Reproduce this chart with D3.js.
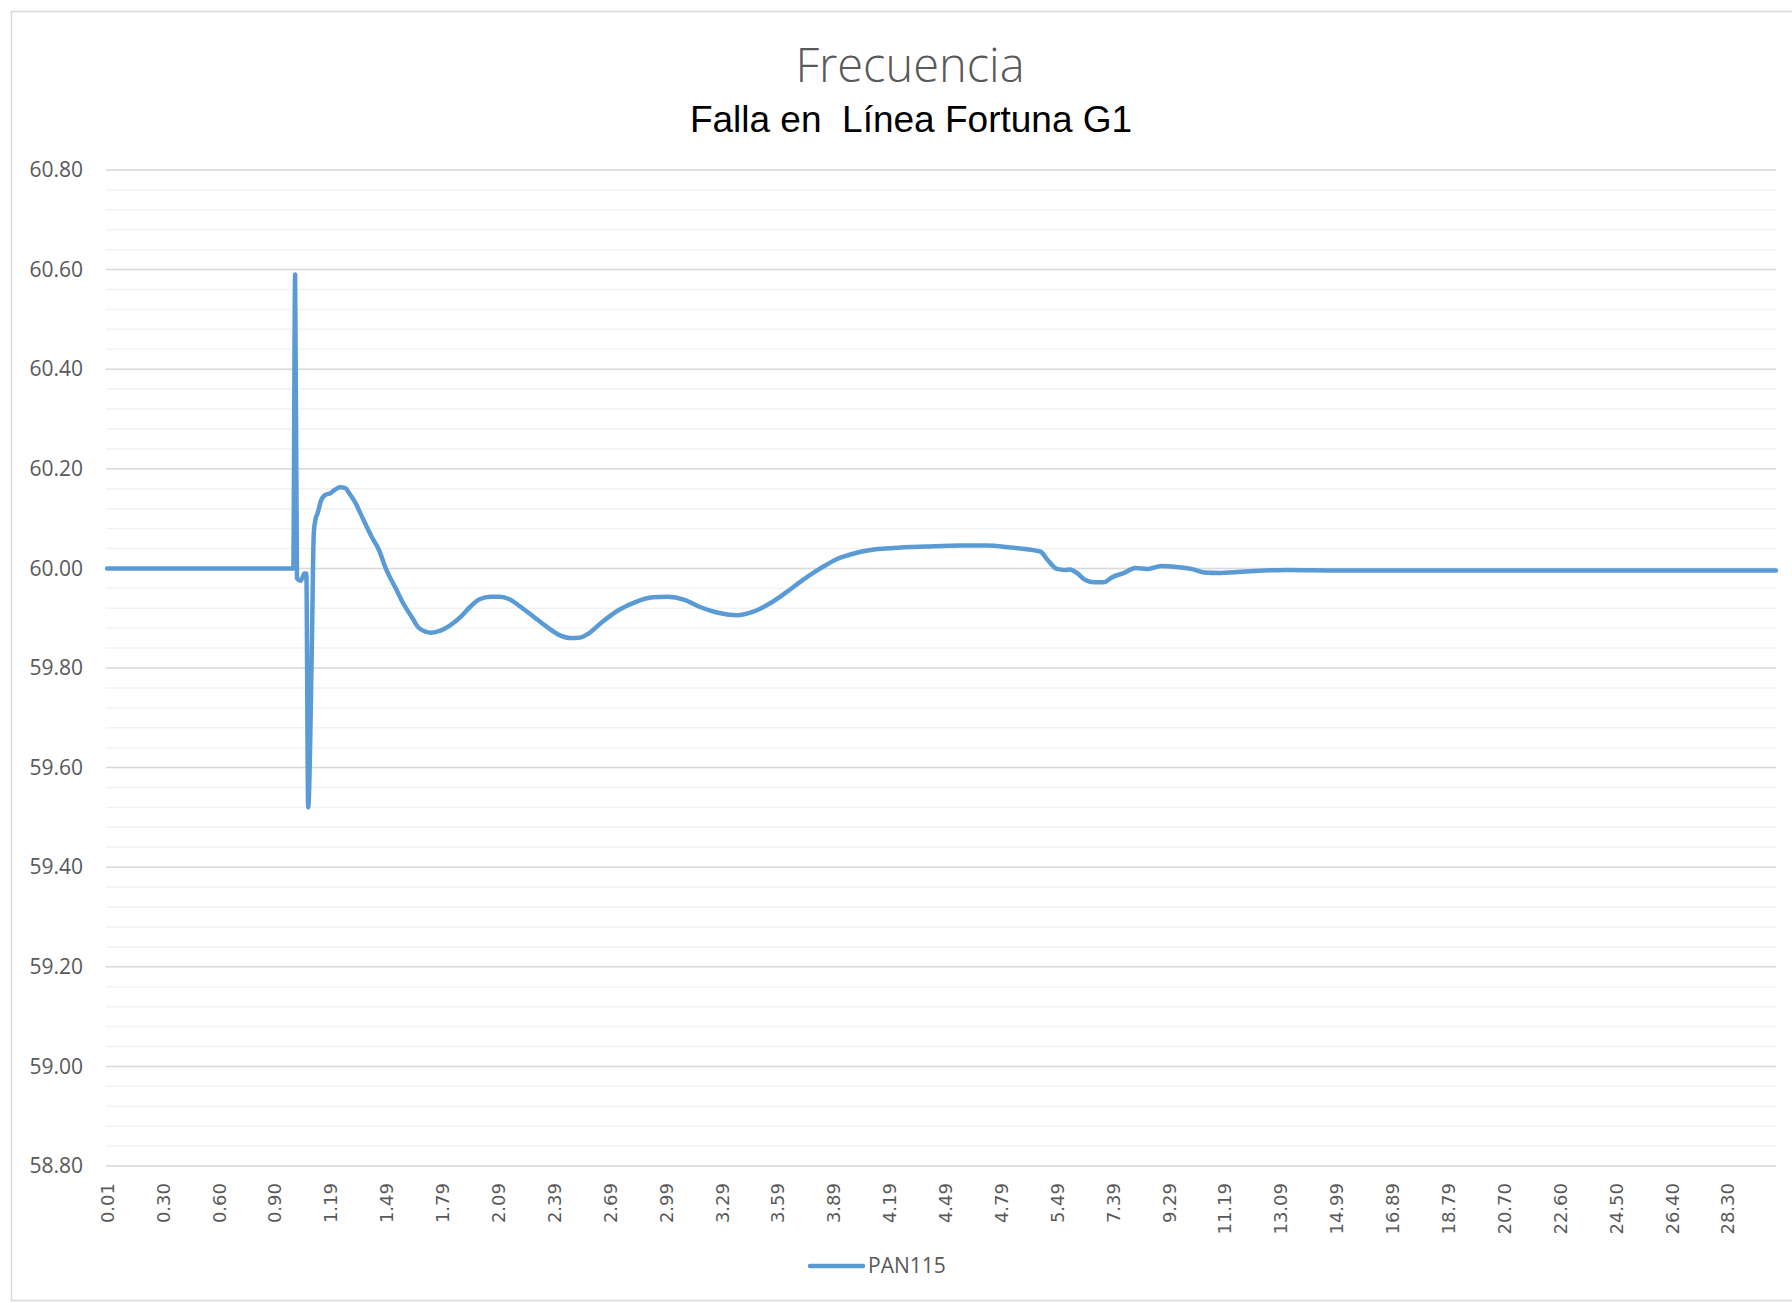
<!DOCTYPE html>
<html>
<head>
<meta charset="utf-8">
<title>Frecuencia</title>
<script src="https://cdn.jsdelivr.net/npm/d3@7"></script>
<style>
  body { margin: 0; background: #ffffff; }
</style>
</head>
<body>
<svg id="drawing_region"></svg>
<script>
// category index (0 = first time sample) and frequency
const catIndex = [0, 100, 101, 102, 104, 106, 107, 108, 110, 111, 112, 113, 115, 117, 120, 122, 125, 128, 130,
    133, 136, 139, 142, 146, 150, 155, 159, 164, 167, 171, 174, 179, 184, 190, 195, 200, 206, 211, 216,
    222, 229, 236, 243, 249, 254, 258, 266, 275, 284, 293, 301, 310, 318, 327, 338, 347, 356, 365, 374,
    383, 392, 401, 410, 422, 440, 458, 472, 485, 501, 505, 510, 514, 517, 521, 525, 530, 535, 540, 546,
    552, 559, 566, 574, 582, 589, 598, 616, 634, 660, 700, 750, 800, 850, 896];
const pan115 = [60.00, 60.00, 60.59, 59.98, 59.975, 59.99, 59.99, 59.52, 59.85, 60.07, 60.10, 60.11, 60.137, 60.147, 60.151, 60.157, 60.163, 60.161, 60.151,
    60.134, 60.111, 60.087, 60.064, 60.037, 59.997, 59.960, 59.930, 59.900, 59.882, 59.873, 59.871, 59.875, 59.885, 59.903, 59.923, 59.938, 59.943, 59.943, 59.938,
    59.923, 59.903, 59.883, 59.866, 59.860, 59.861, 59.868, 59.893, 59.917, 59.933, 59.942, 59.943, 59.937, 59.923, 59.912, 59.906, 59.913, 59.930, 59.953, 59.978,
    60.000, 60.019, 60.030, 60.037, 60.041, 60.044, 60.046, 60.046, 60.042, 60.034, 60.017, 59.999, 59.997, 59.998, 59.990, 59.977, 59.972, 59.972, 59.983, 59.991,
    60.001, 59.999, 60.005, 60.003, 59.999, 59.992, 59.991, 59.995, 59.997, 59.996, 59.996, 59.996, 59.996, 59.996, 59.996];
const lastIndex = 896;

// x tick labels, one every 30 categories
const xLabels = ["0.01", "0.30", "0.60", "0.90", "1.19", "1.49", "1.79", "2.09", "2.39", "2.69",
    "2.99", "3.29", "3.59", "3.89", "4.19", "4.49", "4.79", "5.49", "7.39", "9.29",
    "11.19", "13.09", "14.99", "16.89", "18.79", "20.70", "22.60", "24.50", "26.40", "28.30"];
const labelStep = 30;
const yTicks = [58.8, 59.0, 59.2, 59.4, 59.6, 59.8, 60.0, 60.2, 60.4, 60.6, 60.8];

const seriesName = "PAN115";
const title = "Frecuencia";
const subtitle = "Falla en  Línea Fortuna G1";

class LineChart {
    constructor( config ) {
        this.config = config;
        this.data = catIndex.map( (c, k) => ({ x: c, y: pan115[k] }) );
        this.init();
    }

    init() {
        let self = this;
        const m = self.config.margin;

        self.svg = d3.select( self.config.parent )
            .attr('width', self.config.width)
            .attr('height', self.config.height);

        self.svg.append('rect')
            .attr('x', 11.5).attr('y', 11.5)
            .attr('width', 1800).attr('height', 1289)
            .attr('fill', '#ffffff')
            .attr('stroke', '#d9d9d9')
            .attr('stroke-width', 1.5);

        self.xscale = d3.scaleLinear()
            .domain([0, lastIndex])
            .range([m.left, self.config.width - m.right]);

        self.yscale = d3.scaleLinear()
            .domain([58.8, 60.8])
            .range([self.config.height - m.bottom, m.top]);

        self.line = d3.line()
            .x( d => self.xscale(d.x) )
            .y( d => self.yscale(d.y) )
            .curve( d3.curveMonotoneX );
    }

    render() {
        let self = this;
        const x0 = self.xscale.range()[0], x1 = self.xscale.range()[1];

        // minor gridlines
        const minor = d3.range(0, 51).map( k => 58.8 + k * 0.04 );
        self.svg.append('g').selectAll('line')
            .data(minor)
            .join('line')
            .attr('x1', x0 - 1).attr('x2', x1)
            .attr('y1', d => self.yscale(d)).attr('y2', d => self.yscale(d))
            .attr('stroke', '#f2f2f2')
            .attr('stroke-width', 1.5);

        // major gridlines
        self.svg.append('g').selectAll('line')
            .data(yTicks)
            .join('line')
            .attr('x1', x0 - 1).attr('x2', x1)
            .attr('y1', d => self.yscale(d)).attr('y2', d => self.yscale(d))
            .attr('stroke', '#d9d9d9')
            .attr('stroke-width', 1.5);

        // y axis
        const yaxis = d3.axisLeft( self.yscale )
            .tickValues(yTicks)
            .tickFormat( d => d.toFixed(2) )
            .tickSize(0)
            .tickPadding(24);
        const yg = self.svg.append('g')
            .attr('transform', `translate(${x0}, 0)`)
            .call(yaxis);
        yg.select('.domain').remove();
        yg.selectAll('text')
            .attr('font-family', '"Open Sans", sans-serif')
            .attr('font-size', 21)
            .attr('fill', '#595959');

        // x axis (categories)
        const xaxis = d3.axisBottom( self.xscale )
            .tickValues( xLabels.map( (l, k) => k * labelStep ) )
            .tickFormat( (d, k) => xLabels[k] )
            .tickSize(0);
        const xg = self.svg.append('g')
            .attr('transform', `translate(0, ${self.yscale(58.8)})`)
            .call(xaxis);
        xg.select('.domain').remove();
        xg.selectAll('text')
            .attr('transform', 'rotate(-90)')
            .attr('x', -17)
            .attr('y', 0)
            .attr('dy', '0.35em')
            .attr('text-anchor', 'end')
            .attr('font-family', '"DejaVu Sans", sans-serif')
            .attr('font-size', 18)
            .attr('fill', '#595959');

        // series
        self.svg.append('path')
            .attr('d', self.line(self.data))
            .attr('fill', 'none')
            .attr('stroke', '#5b9bd5')
            .attr('stroke-width', 4.5)
            .attr('stroke-linejoin', 'round')
            .attr('stroke-linecap', 'round');

        // titles
        self.svg.append('text')
            .attr('x', 910).attr('y', 82)
            .attr('text-anchor', 'middle')
            .attr('font-family', '"Open Sans", sans-serif')
            .attr('font-weight', 300)
            .attr('font-size', 47)
            .attr('fill', '#595959')
            .text(title);

        self.svg.append('text')
            .attr('x', 911).attr('y', 132)
            .attr('text-anchor', 'middle')
            .attr('font-family', '"Liberation Sans", Arial, sans-serif')
            .attr('font-size', 37)
            .attr('fill', '#000000')
            .attr('xml:space', 'preserve')
            .style('white-space', 'pre')
            .text(subtitle);

        // legend
        const lg = self.svg.append('g');
        lg.append('line')
            .attr('x1', 810).attr('x2', 863)
            .attr('y1', 1266).attr('y2', 1266)
            .attr('stroke', '#5b9bd5')
            .attr('stroke-width', 4.5)
            .attr('stroke-linecap', 'round');
        lg.append('text')
            .attr('x', 868).attr('y', 1266)
            .attr('dy', '0.35em')
            .attr('font-family', '"Open Sans", sans-serif')
            .attr('font-size', 21)
            .attr('fill', '#595959')
            .text(seriesName);
    }
}

const chart = new LineChart({
    parent: '#drawing_region',
    width: 1792,
    height: 1303,
    margin: {top: 170, right: 16, bottom: 137, left: 107}
});
chart.render();
</script>
</body>
</html>
